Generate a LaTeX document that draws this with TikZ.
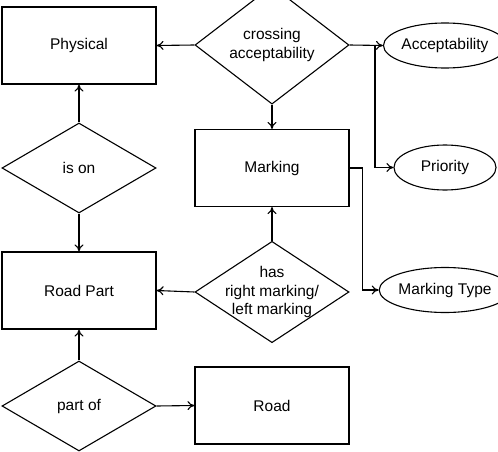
\documentclass[tikz,border=0pt]{standalone}
\usepackage{fontspec}
\setmainfont{Liberation Sans}
\usetikzlibrary{shapes.geometric,arrows.meta}
\begin{document}
\begin{tikzpicture}[
  x=1pt, y=-1pt,
  every node/.style={font=\fontsize{15.5}{18.5}\selectfont, align=center},
  entity/.style={rectangle, draw, line width=1.1pt, minimum width=154pt,
                 minimum height=77pt, inner sep=0pt},
  relation/.style={diamond, draw, line width=1.1pt, minimum width=154pt,
                   minimum height=90pt, inner sep=0pt},
  attribute/.style={ellipse, draw, line width=1.1pt, minimum width=102pt,
                    minimum height=45pt, inner sep=0pt},
  arrow/.style={-{To[length=7pt,width=9pt]}, line width=1.1pt}
]
  \useasboundingbox (0,0) rectangle (498,452);

  \node[entity]    (physical) at (79, 45.5)  {Physical};
  \node[relation]  (crossing) at (272, 45)   {crossing\\acceptability};
  \node[attribute] (accept)   at (445, 45.5) {Acceptability};
  \node[entity]    (marking)  at (272, 168)  {Marking};
  \node[attribute] (priority) at (445, 167.5) {Priority};
  \node[relation]  (ison)     at (79, 168)   {is on};
  \node[entity]    (roadpart) at (79, 290.5) {Road Part};
  \node[relation, inner xsep=-22pt] (has) at (272, 292) {has\\right marking/\\left marking};
  \node[attribute] (mtype)    at (445, 290)  {Marking Type};
  \node[relation]  (partof)   at (79, 406)   {part of};
  \node[entity]    (road)     at (272, 405.5) {Road};

  \coordinate (branch) at (375, 45);

  \draw[arrow] (crossing.west) -- (physical.east);
  \draw[arrow] (crossing.south) -- (marking.north);
  \draw[arrow] (crossing.east) -- (accept.west);
  \draw[arrow] (branch) |- (priority.west);
  \draw[arrow] (ison.north) -- (physical.south);
  \draw[arrow] (ison.south) -- (roadpart.north);
  \draw[arrow] (has.west) -- (roadpart.east);
  \draw[arrow] (has.north) -- (marking.south);
  \draw[arrow] (marking.east) -- ++(13,0) |- (mtype.west);
  \draw[arrow] (partof.north) -- (roadpart.south);
  \draw[arrow] (partof.east) -- (road.west);

\end{tikzpicture}
\end{document}
